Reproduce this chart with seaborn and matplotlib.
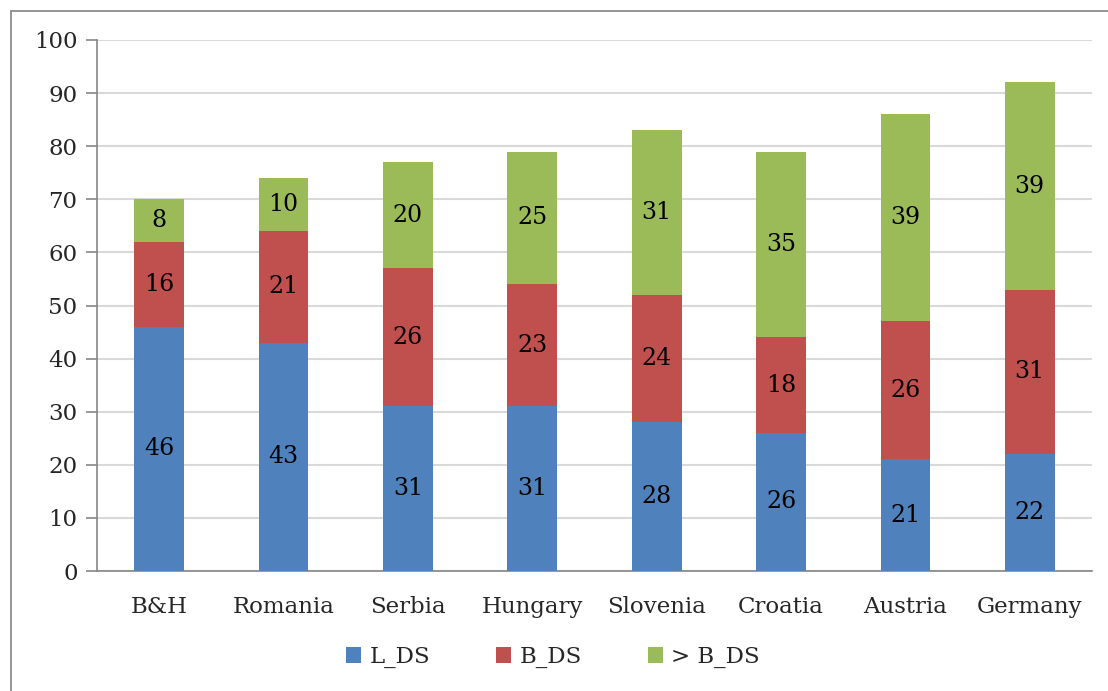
import numpy as np
import pandas as pd
import matplotlib
matplotlib.use("Agg")
import matplotlib.pyplot as plt
import seaborn as sns
from matplotlib.patches import Patch
from matplotlib.lines import Line2D

categories = ["B&H", "Romania", "Serbia", "Hungary", "Slovenia", "Croatia", "Austria", "Germany"]
l_ds = [46, 43, 31, 31, 28, 26, 21, 22]
b_ds = [16, 21, 26, 23, 24, 18, 26, 31]
gt_b_ds = [8, 10, 20, 25, 31, 35, 39, 39]
series_names = ["L_DS", "B_DS", "> B_DS"]
colors = ["#4F81BD", "#C0504D", "#9BBB59"]
yticks = [0, 10, 20, 30, 40, 50, 60, 70, 80, 90, 100]

sns.set_theme(style="white")
plt.rcParams["font.family"] = ["DejaVu Serif"]
FS = 16.5

W, H = 1108, 691
fig = plt.figure(figsize=(W / 100, H / 100), dpi=100)
ax = fig.add_axes([97 / W, (H - 571) / H, 995 / W, 531 / H])

# outer chart frame (top and left edges only visible)
fig.add_artist(Line2D([11 / W, 1.0], [1 - 11 / H, 1 - 11 / H], transform=fig.transFigure,
                      color="#8C8C8C", linewidth=1.3))
fig.add_artist(Line2D([11 / W, 11 / W], [0.0, 1 - 11 / H], transform=fig.transFigure,
                      color="#8C8C8C", linewidth=1.3))

df = pd.DataFrame({"cat": categories, "L_DS": l_ds, "B_DS": b_ds, "> B_DS": gt_b_ds})
bottom = np.zeros(len(categories))
for name, col in zip(series_names, colors):
    vals = df[name].to_numpy(dtype=float)
    sns.barplot(x=df["cat"], y=vals, bottom=bottom, color=col, width=0.4,
                ax=ax, saturation=1, zorder=3, linewidth=0)
    for i, (v, b) in enumerate(zip(vals, bottom)):
        ax.text(i, b + v / 2, f"{int(v)}", ha="center", va="center", fontsize=FS + 0.5,
                color="black", zorder=4)
    bottom = bottom + vals

ax.set_xlim(-0.5, len(categories) - 0.5)
ax.set_ylim(0, 100)
ax.set_yticks(yticks)
ax.set_yticklabels([str(t) for t in yticks], fontsize=FS)
ax.yaxis.grid(True, color="#D9D9D9", linewidth=1.5, zorder=0)
ax.set_axisbelow(True)
ax.set_xlabel("")
ax.set_ylabel("")
for s in ["top", "right"]:
    ax.spines[s].set_visible(False)
for s in ["left", "bottom"]:
    ax.spines[s].set_color("#868686")
    ax.spines[s].set_linewidth(1.2)

ax.set_xticks(range(len(categories)))
ax.set_xticklabels(categories, fontsize=FS)
ax.tick_params(axis="x", length=0, pad=18)
ax.set_xticks(np.arange(-0.5, len(categories), 1), minor=True)
ax.tick_params(axis="x", which="minor", length=7, width=1.2, color="#868686", direction="out")
ax.tick_params(axis="y", length=8, width=1.2, color="#868686", direction="out", pad=6, left=True)

handles = [Patch(facecolor=c, edgecolor="none") for c in colors]
fig.legend(handles, series_names, loc="center", bbox_to_anchor=(553 / W, 1 - 657 / H),
           ncol=3, frameon=False, fontsize=FS, handlelength=0.65, handleheight=0.65,
           handletextpad=0.35, columnspacing=2.9)

fig.savefig("out.png", dpi=100)
